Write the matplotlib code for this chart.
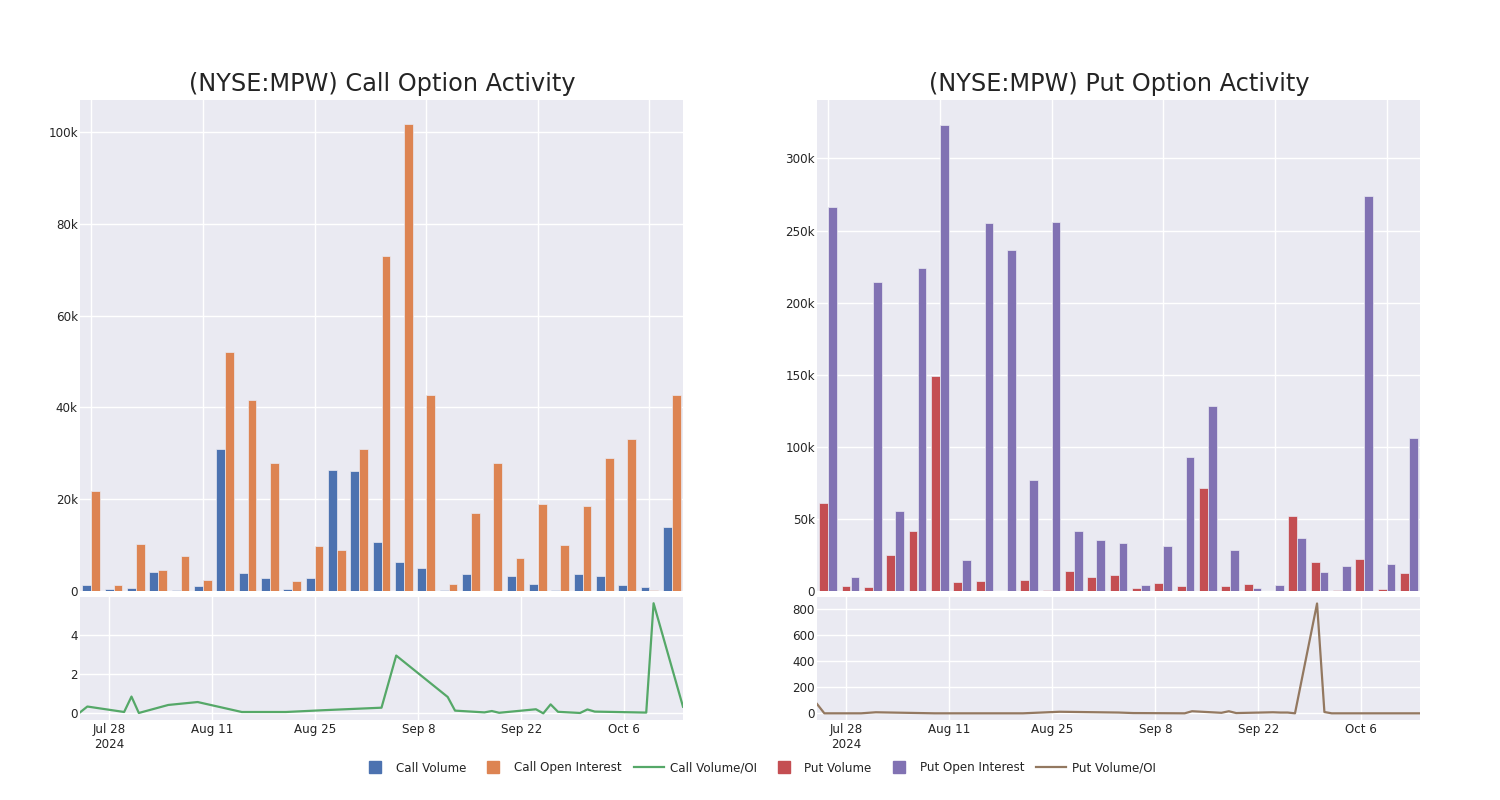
import numpy as np
import matplotlib
matplotlib.use("Agg")
import matplotlib.pyplot as plt
import matplotlib.dates as mdates
from matplotlib.ticker import FuncFormatter, FixedLocator
from matplotlib.lines import Line2D

plt.rcParams['font.family'] = ['DejaVu Sans']

# trading dates shown in the volume/OI line panels
dates = np.array(['2024-07-24', '2024-07-25', '2024-07-30', '2024-07-31', '2024-08-01',
                  '2024-08-05', '2024-08-09', '2024-08-15', '2024-08-21', '2024-08-26',
                  '2024-09-03', '2024-09-05', '2024-09-12', '2024-09-13', '2024-09-17',
                  '2024-09-18', '2024-09-19', '2024-09-24', '2024-09-25', '2024-09-26',
                  '2024-09-27', '2024-09-30', '2024-10-01', '2024-10-02', '2024-10-09',
                  '2024-10-10', '2024-10-14'], dtype='datetime64[D]')

# values in thousands of contracts
call_volume = [1.24, 0.44, 0.73, 4.15, 0.15, 1.0, 31.0, 3.9, 2.8, 0.36, 2.9, 26.4, 26.1, 10.6,
               6.3, 5.0, 0.15, 3.6, 0.07, 3.35, 1.6, 0.3, 3.8, 3.3, 1.3, 0.95, 14.0]
call_oi = [21.8, 1.24, 10.3, 4.6, 7.7, 2.5, 52.0, 41.7, 28.0, 2.2, 9.8, 8.9, 31.0, 73.1,
           101.8, 42.8, 1.46, 17.1, 28.0, 7.3, 18.9, 10.1, 18.6, 29.0, 33.1, 0.17, 42.8]
call_ratio = [0.05, 0.35, 0.07, 0.86, 0.02, 0.43, 0.58, 0.07, 0.07, 0.16, 0.29, 2.96, 0.84, 0.14,
              0.05, 0.12, 0.03, 0.21, 0.0, 0.46, 0.08, 0.02, 0.2, 0.09, 0.04, 5.64, 0.34]

put_volume = [61.1, 3.5, 3.0, 24.7, 41.6, 149.4, 6.2, 7.2, 0.0, 7.4, 0.7, 14.1, 9.5, 10.9,
              1.85, 5.8, 3.5, 71.7, 3.5, 4.9, 0.2, 52.3, 20.4, 0.9, 22.4, 1.6, 12.3]
put_oi = [266.2, 9.5, 214.6, 55.5, 224.1, 323.5, 21.7, 255.3, 236.8, 77.2, 256.2, 41.6, 35.6, 33.3,
          4.4, 31.5, 92.7, 128.6, 28.7, 2.1, 4.2, 36.8, 13.0, 17.3, 273.8, 19.0, 106.4]
put_ratio = [72, 0, 0, 4, 8, 4, 0, 0, 0, 12, 6, 2, 0, 16,
             4, 16, 2, 8, 6, 6, 0, 846, 10, 0, 0, 0, 0]

BG = '#EAEAF2'
TXT = '#242424'
C_BLUE = '#4C72B0'
C_ORANGE = '#DD8452'
C_GREEN = '#55A868'
C_RED = '#C44E52'
C_PURPLE = '#8172B3'
C_BROWN = '#937860'

W, H = 1500, 800
fig = plt.figure(figsize=(15, 8), dpi=100)


def px_axes(x0, y0, x1, y1):
    return fig.add_axes([x0 / W, 1 - y1 / H, (x1 - x0) / W, (y1 - y0) / H])


def style(ax):
    ax.set_facecolor(BG)
    for s in ax.spines.values():
        s.set_visible(False)
    ax.grid(True, color='white', linewidth=1.0)
    ax.set_axisbelow(True)
    ax.tick_params(length=0, labelsize=8.6, labelcolor=TXT)
    ax.tick_params(axis='y', pad=1.5)
    ax.tick_params(axis='x', pad=2)


def kfmt(v, pos):
    if v == 0:
        return '0'
    return '%dk' % round(v / 1000)


def bar_panel(x0, vol, oi, c1, c2, ymax, ystep):
    ax = px_axes(x0, 100, x0 + 603, 591)
    style(ax)
    idx = np.arange(len(vol))
    ax.bar(idx - 0.2, np.array(vol) * 1000, width=0.4, color=c1, edgecolor=BG, linewidth=0.5)
    ax.bar(idx + 0.2, np.array(oi) * 1000, width=0.4, color=c2, edgecolor=BG, linewidth=0.5)
    ax.set_xlim(-0.5, len(vol) - 0.5)
    ax.set_ylim(0, ymax)
    ax.xaxis.set_major_locator(FixedLocator(np.arange(0, len(vol), 5)))
    ax.set_xticklabels([])
    ax.yaxis.set_major_locator(FixedLocator(np.arange(0, ymax, ystep)))
    ax.yaxis.set_major_formatter(FuncFormatter(kfmt))
    return ax


def line_panel(x0, vals, color, ylim, yticks):
    ax = px_axes(x0, 597, x0 + 603, 720)
    style(ax)
    ax.plot(dates, vals, color=color, linewidth=1.6)
    ax.set_xlim(np.datetime64('2024-07-24'), np.datetime64('2024-10-14'))
    ax.set_ylim(*ylim)
    ticks = np.arange(np.datetime64('2024-07-28'), np.datetime64('2024-10-14'), 14)
    ax.set_xticks(mdates.date2num(ticks))
    labels = [t.astype(object).strftime('%b %-d') for t in ticks]
    labels[0] = labels[0] + '\n2024'
    ax.set_xticklabels(labels)
    ax.set_yticks(yticks)
    return ax


bar_panel(80, call_volume, call_oi, C_BLUE, C_ORANGE, 107000, 20000)
line_panel(80, call_ratio, C_GREEN, (-0.34, 5.96), [0, 2, 4])
bar_panel(817, put_volume, put_oi, C_RED, C_PURPLE, 340500, 50000)
line_panel(817, put_ratio, C_BROWN, (-51.5, 896), [0, 200, 400, 600, 800])

fig.text(382 / W, 1 - 84 / H, '(NYSE:MPW) Call Option Activity', ha='center', va='center',
         fontsize=17.3, color=TXT)
fig.text(1119 / W, 1 - 84 / H, '(NYSE:MPW) Put Option Activity', ha='center', va='center',
         fontsize=17.3, color=TXT)

handles = [
    Line2D([], [], marker='s', linestyle='none', markersize=8.5, color=C_BLUE),
    Line2D([], [], marker='s', linestyle='none', markersize=8.5, color=C_ORANGE),
    Line2D([], [], color=C_GREEN, linewidth=1.6),
    Line2D([], [], marker='s', linestyle='none', markersize=8.5, color=C_RED),
    Line2D([], [], marker='s', linestyle='none', markersize=8.5, color=C_PURPLE),
    Line2D([], [], color=C_BROWN, linewidth=1.6),
]
names = ['Call Volume', 'Call Open Interest', 'Call Volume/OI',
         'Put Volume', 'Put Open Interest', 'Put Volume/OI']
fig.legend(handles, names, loc='center', bbox_to_anchor=(758 / W, 1 - 768 / H), ncol=6,
           frameon=False, fontsize=8.6, handlelength=2.5, columnspacing=1.0,
           handletextpad=0.5, labelcolor=TXT)

fig.savefig('out.png', dpi=100)
